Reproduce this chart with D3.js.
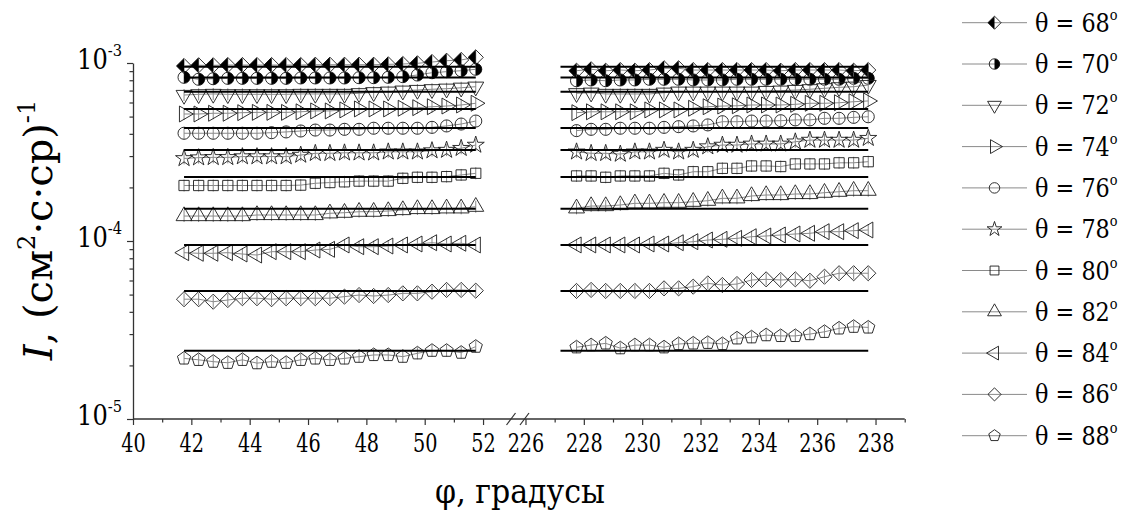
<!DOCTYPE html>
<html>
<head>
<meta charset="utf-8">
<script src="https://cdn.jsdelivr.net/npm/d3@7"></script>
<style>
  body { margin: 0; background: #fff; }
  svg text { font-family: "DejaVu Serif", serif; fill: #000; }
</style>
</head>
<body>
<div class="vis-holder"></div>
<script>
// azimuth angles of the measured points, left and right of the axis break
var phiLeft = [41.75, 42.25, 42.75, 43.25, 43.75, 44.25, 44.75, 45.25, 45.75, 46.25, 46.75,
               47.25, 47.75, 48.25, 48.75, 49.25, 49.75, 50.25, 50.75, 51.25, 51.75];
var phiRight = [227.75, 228.25, 228.75, 229.25, 229.75, 230.25, 230.75, 231.25, 231.75, 232.25, 232.75,
                233.25, 233.75, 234.25, 234.75, 235.25, 235.75, 236.25, 236.75, 237.25, 237.75];

var thetas = [68, 70, 72, 74, 76, 78, 80, 82, 84, 86, 88];

// intensities, in units of 1e-4 (cm^2 s sr)^-1
var i68L = [9.62, 9.71, 9.71, 9.74, 9.74, 9.74, 9.74, 9.74, 9.74, 9.78, 9.78, 9.78, 9.78, 9.78, 9.83, 9.87, 9.96, 10.13, 10.30, 10.40, 10.76];
var i70L = [8.31, 8.10, 8.16, 8.20, 8.20, 8.20, 8.20, 8.20, 8.24, 8.24, 8.24, 8.24, 8.27, 8.27, 8.31, 8.38, 8.56, 8.82, 8.94, 9.05, 9.22];
var i72L = [6.61, 6.67, 6.70, 6.67, 6.67, 6.67, 6.67, 6.67, 6.70, 6.70, 6.70, 6.70, 6.76, 6.85, 6.90, 6.99, 7.05, 7.12, 7.17, 7.26, 7.36];
var i74L = [5.17, 5.17, 5.22, 5.22, 5.26, 5.28, 5.28, 5.28, 5.32, 5.38, 5.38, 5.45, 5.52, 5.52, 5.52, 5.57, 5.61, 5.68, 5.73, 5.81, 5.94];
var i76L = [4.03, 4.03, 4.03, 4.03, 4.03, 4.03, 4.06, 4.10, 4.15, 4.20, 4.20, 4.24, 4.24, 4.30, 4.30, 4.30, 4.30, 4.35, 4.43, 4.54, 4.72];
var i78L = [2.91, 2.94, 2.95, 2.95, 2.98, 2.98, 2.98, 2.98, 3.04, 3.11, 3.11, 3.13, 3.13, 3.13, 3.17, 3.17, 3.17, 3.22, 3.24, 3.32, 3.46];
var i80L = [2.05, 2.05, 2.05, 2.05, 2.05, 2.05, 2.05, 2.05, 2.06, 2.11, 2.13, 2.15, 2.17, 2.17, 2.17, 2.25, 2.28, 2.28, 2.30, 2.35, 2.40];
var i82L = [1.381, 1.381, 1.381, 1.381, 1.381, 1.400, 1.400, 1.400, 1.400, 1.400, 1.431, 1.442, 1.461, 1.461, 1.474, 1.493, 1.513, 1.513, 1.526, 1.526, 1.558];
var i84L = [0.860, 0.853, 0.853, 0.860, 0.845, 0.834, 0.871, 0.871, 0.871, 0.890, 0.898, 0.950, 0.929, 0.929, 0.937, 0.950, 0.962, 0.978, 0.962, 0.971, 0.950];
var i86L = [0.471, 0.471, 0.456, 0.466, 0.477, 0.477, 0.471, 0.477, 0.477, 0.477, 0.477, 0.487, 0.497, 0.491, 0.497, 0.508, 0.508, 0.519, 0.531, 0.531, 0.526];
var i88L = [0.219, 0.215, 0.210, 0.207, 0.215, 0.206, 0.210, 0.207, 0.215, 0.219, 0.215, 0.219, 0.224, 0.229, 0.229, 0.224, 0.234, 0.242, 0.242, 0.236, 0.255];

var i68R = [9.05, 9.22, 9.05, 9.13, 9.05, 9.13, 9.34, 9.34, 9.13, 9.13, 9.13, 9.13, 9.13, 9.13, 9.05, 9.13, 9.13, 9.13, 9.13, 9.05, 9.13];
var i70R = [7.95, 8.03, 7.95, 8.03, 8.03, 8.10, 8.10, 8.10, 8.03, 8.03, 8.03, 8.10, 8.10, 8.10, 8.10, 8.10, 8.10, 8.10, 8.10, 8.20, 8.20];
var i72R = [6.76, 6.81, 6.70, 6.70, 6.70, 6.70, 6.81, 6.90, 6.90, 6.90, 6.90, 6.90, 6.90, 6.96, 6.99, 7.05, 7.12, 7.21, 7.30, 7.36, 7.52];
var i74R = [5.26, 5.32, 5.32, 5.32, 5.32, 5.45, 5.45, 5.45, 5.57, 5.68, 5.73, 5.75, 5.81, 5.81, 5.81, 5.86, 5.94, 5.94, 5.98, 6.06, 6.12];
var i76R = [4.17, 4.24, 4.24, 4.30, 4.30, 4.30, 4.35, 4.39, 4.43, 4.49, 4.68, 4.68, 4.72, 4.72, 4.74, 4.79, 4.79, 4.89, 4.89, 4.95, 4.99];
var i78R = [3.17, 3.11, 3.11, 3.08, 3.17, 3.17, 3.24, 3.17, 3.24, 3.39, 3.46, 3.46, 3.51, 3.51, 3.51, 3.61, 3.69, 3.69, 3.69, 3.69, 3.78];
var i80R = [2.32, 2.32, 2.28, 2.32, 2.32, 2.32, 2.40, 2.35, 2.45, 2.45, 2.56, 2.56, 2.64, 2.64, 2.62, 2.71, 2.71, 2.71, 2.75, 2.75, 2.79];
var i82R = [1.526, 1.572, 1.572, 1.593, 1.628, 1.628, 1.641, 1.641, 1.662, 1.684, 1.737, 1.737, 1.790, 1.813, 1.813, 1.837, 1.837, 1.868, 1.892, 1.917, 1.917];
var i84R = [0.950, 0.950, 0.950, 0.950, 0.950, 0.962, 0.962, 0.978, 0.991, 1.013, 1.022, 1.035, 1.057, 1.067, 1.081, 1.095, 1.105, 1.128, 1.128, 1.143, 1.153];
var i86R = [0.524, 0.531, 0.524, 0.524, 0.524, 0.524, 0.542, 0.542, 0.554, 0.578, 0.566, 0.573, 0.604, 0.609, 0.604, 0.609, 0.598, 0.630, 0.659, 0.659, 0.659];
var i88R = [0.253, 0.260, 0.266, 0.250, 0.260, 0.260, 0.253, 0.264, 0.266, 0.268, 0.264, 0.284, 0.288, 0.296, 0.293, 0.293, 0.300, 0.309, 0.323, 0.330, 0.327];

// reference levels (black lines), same units, and their phi spans
var levels = [9.53, 8.29, 6.90, 5.52, 4.31, 3.24, 2.29, 1.52, 0.950, 0.524, 0.242];
var levelSpanLeft = [41.75, 51.75];
var levelSpanRight = [227.2, 237.75];

// tick labels
var xTicksLeft = [40, 42, 44, 46, 48, 50, 52];
var xMinorLeft = [41, 43, 45, 47, 49, 51];
var xTicksRight = [226, 228, 230, 232, 234, 236, 238];
var xMinorRight = [227, 229, 231, 233, 235, 237, 239];
var yTicks = [1e-3, 1e-4, 1e-5];
var yTickExp = ["-3", "-4", "-5"];

var seriesLeft = [i68L, i70L, i72L, i74L, i76L, i78L, i80L, i82L, i84L, i86L, i88L];
var seriesRight = [i68R, i70R, i72R, i74R, i76R, i78R, i80R, i82R, i84R, i86R, i88R];

var width = 1125;
var height = 515;

var svg = d3.select(".vis-holder")
            .append("svg")
            .attr("width", width)
            .attr("height", height);

// log y-scale, two linear x-scales with the same step on both sides of the break
var yScale = d3.scaleLog().domain([1e-5, 1e-3]).range([419, 63]);
var xLeft = d3.scaleLinear().domain([40, 52.9]).range([133, 509.3]);
var xRight = d3.scaleLinear().domain([225.5, 239]).range([510.9, 904.7]);

// custom symbol shapes
var symbolDiamond = { draw: function(c, size) {
  var r = Math.sqrt(size / 2);
  c.moveTo(0, -r); c.lineTo(r, 0); c.lineTo(0, r); c.lineTo(-r, 0); c.closePath();
}};
var symbolHalfDiamond = { draw: function(c, size) {
  var r = Math.sqrt(size / 2);
  c.moveTo(0, -r); c.lineTo(-r, 0); c.lineTo(0, r); c.closePath();
}};
var symbolHalfCircle = { draw: function(c, size) {
  var r = Math.sqrt(size / Math.PI);
  c.moveTo(0, -r); c.arc(0, 0, r, -Math.PI / 2, Math.PI / 2); c.closePath();
}};
var symbolPentagon = { draw: function(c, size) {
  var r = Math.sqrt(size / 2.3776);
  for (var k = 0; k < 5; k++) {
    var a = -Math.PI / 2 + k * 2 * Math.PI / 5;
    if (k === 0) c.moveTo(r * Math.cos(a), r * Math.sin(a));
    else c.lineTo(r * Math.cos(a), r * Math.sin(a));
  }
  c.closePath();
}};

// marker per theta: shape, rotation, area, optional filled half
var markers = [
  { type: symbolDiamond, rot: 0, size: 115, half: symbolHalfDiamond },
  { type: d3.symbolCircle, rot: 0, size: 115, half: symbolHalfCircle },
  { type: d3.symbolTriangle, rot: 180, size: 110 },
  { type: d3.symbolTriangle, rot: 90, size: 110 },
  { type: d3.symbolCircle, rot: 0, size: 115 },
  { type: d3.symbolStar, rot: 0, size: 90 },
  { type: d3.symbolSquare, rot: 0, size: 105 },
  { type: d3.symbolTriangle, rot: 0, size: 110 },
  { type: d3.symbolTriangle, rot: -90, size: 110 },
  { type: symbolDiamond, rot: 0, size: 115 },
  { type: symbolPentagon, rot: 0, size: 115 }
];

function drawMarker(g, m, x, y, scale) {
  var s = m.size * scale;
  var tr = "translate(" + x + "," + y + ") rotate(" + m.rot + ")";
  g.append("path")
   .attr("d", d3.symbol().type(m.type).size(s)())
   .attr("transform", tr)
   .attr("fill", "none")
   .attr("stroke", "#1a1a1a")
   .attr("stroke-width", 0.9);
  if (m.half) {
    g.append("path")
     .attr("d", d3.symbol().type(m.half).size(s)())
     .attr("transform", tr)
     .attr("fill", "#000");
  }
}

function drawPanel(xs, phis, series, span) {
  var g = svg.append("g");
  series.forEach(function(vals, i) {
    var pts = phis.map(function(p, k) { return { x: xs(p), y: yScale(vals[k] * 1e-4) }; });
    // thin grey connecting line
    var line = d3.line().x(function(d) { return d.x; }).y(function(d) { return d.y; });
    g.append("path")
     .attr("d", line(pts))
     .attr("fill", "none")
     .attr("stroke", "#8a8a8a")
     .attr("stroke-width", 1);
    // grey vertical bars through the markers
    g.selectAll(null).data(pts).enter().append("line")
     .attr("x1", function(d) { return d.x; })
     .attr("x2", function(d) { return d.x; })
     .attr("y1", function(d) { return d.y - 6; })
     .attr("y2", function(d) { return d.y + 6; })
     .attr("stroke", "#8a8a8a")
     .attr("stroke-width", 1);
    pts.forEach(function(d) { drawMarker(g, markers[i], d.x, d.y, 1); });
  });
  // black reference levels
  levels.forEach(function(v) {
    g.append("line")
     .attr("x1", xs(span[0]))
     .attr("x2", xs(span[1]))
     .attr("y1", yScale(v * 1e-4))
     .attr("y2", yScale(v * 1e-4))
     .attr("stroke", "#000")
     .attr("stroke-width", 2);
  });
}

drawPanel(xLeft, phiLeft, seriesLeft, levelSpanLeft);
drawPanel(xRight, phiRight, seriesRight, levelSpanRight);

// x axes (major + minor ticks on both sides of the break)
function xAxis(scale, major, minor) {
  var gMaj = svg.append("g")
     .attr("transform", "translate(0,419)")
     .call(d3.axisBottom(scale).tickValues(major).tickSize(6).tickSizeOuter(0).tickPadding(9));
  var gMin = svg.append("g")
     .attr("transform", "translate(0,419)")
     .call(d3.axisBottom(scale).tickValues(minor).tickSize(3.5).tickSizeOuter(0).tickFormat(""));
  [gMaj, gMin].forEach(function(g) {
    g.select(".domain").remove();
    g.selectAll("line").attr("stroke", "#333").attr("stroke-width", 1.2);
  });
  gMaj.attr("font-size", 26).attr("font-family", null);
  // narrow the glyphs a little, like the condensed serif of the original
  gMaj.selectAll("text").attr("fill", "#000").attr("transform", "scale(0.74,1)");
}
xAxis(xLeft, xTicksLeft, xMinorLeft);
xAxis(xRight, xTicksRight, xMinorRight);

svg.append("line")
   .attr("x1", xLeft(40)).attr("x2", xRight(239))
   .attr("y1", 419).attr("y2", 419)
   .attr("stroke", "#333").attr("stroke-width", 1.3);

// break marks
[511, 524.5].forEach(function(bx) {
  svg.append("line")
     .attr("x1", bx - 4.5).attr("y1", 425)
     .attr("x2", bx + 4.5).attr("y2", 413)
     .attr("stroke", "#333").attr("stroke-width", 1.2);
});

// y axis
var gy = svg.append("g")
   .attr("transform", "translate(133,0)")
   .call(d3.axisLeft(yScale).tickValues(yTicks).tickSize(6).tickSizeOuter(0).tickFormat(""));
var gyMin = svg.append("g")
   .attr("transform", "translate(133,0)")
   .call(d3.axisLeft(yScale)
          .tickValues(yScale.ticks().filter(function(v) { return yTicks.indexOf(v) < 0; }))
          .tickSize(3.5).tickSizeOuter(0).tickFormat(""));
gyMin.select(".domain").remove();
gy.select(".domain").attr("stroke", "#333").attr("stroke-width", 1.3);
gy.selectAll("line").attr("stroke", "#333").attr("stroke-width", 1.2);
gyMin.selectAll("line").attr("stroke", "#333").attr("stroke-width", 1.2);

yTicks.forEach(function(v, i) {
  var t = svg.append("text")
     .attr("transform", "translate(122," + (yScale(v) + 6) + ") scale(0.86,1)")
     .attr("text-anchor", "end");
  t.append("tspan").attr("font-size", 28).text("10");
  t.append("tspan").attr("font-size", 17).attr("dy", -13).text(yTickExp[i]);
});

// axis titles
svg.append("text")
   .attr("transform", "translate(520,503) scale(0.91,1)")
   .attr("text-anchor", "middle")
   .attr("font-size", 33)
   .text("φ, градусы");

var yl = svg.append("text")
   .attr("text-anchor", "middle")
   .attr("transform", "translate(52,230) rotate(-90)")
   .attr("font-size", 40);
yl.append("tspan").attr("font-style", "italic").text("I");
yl.append("tspan").text(", (см");
yl.append("tspan").attr("font-size", 24).attr("dy", -17).text("2");
yl.append("tspan").attr("dy", 17).text("·с·ср)");
yl.append("tspan").attr("font-size", 24).attr("dy", -17).text("-1");

// legend
var legend = svg.append("g");
thetas.forEach(function(t, i) {
  var cy = 22.7 + i * 41.3;
  legend.append("line")
        .attr("x1", 962).attr("x2", 1027)
        .attr("y1", cy).attr("y2", cy)
        .attr("stroke", "#8a8a8a").attr("stroke-width", 1);
  drawMarker(legend, markers[i], 994.5, cy, 0.75);
  var tx = legend.append("text")
        .attr("transform", "translate(1035," + (cy + 9) + ") scale(0.86,1)")
        .attr("font-size", 26);
  tx.append("tspan").text("θ = " + t);
  tx.append("tspan").attr("font-size", 15).attr("dy", -12).text("o");
});
</script>
</body>
</html>
